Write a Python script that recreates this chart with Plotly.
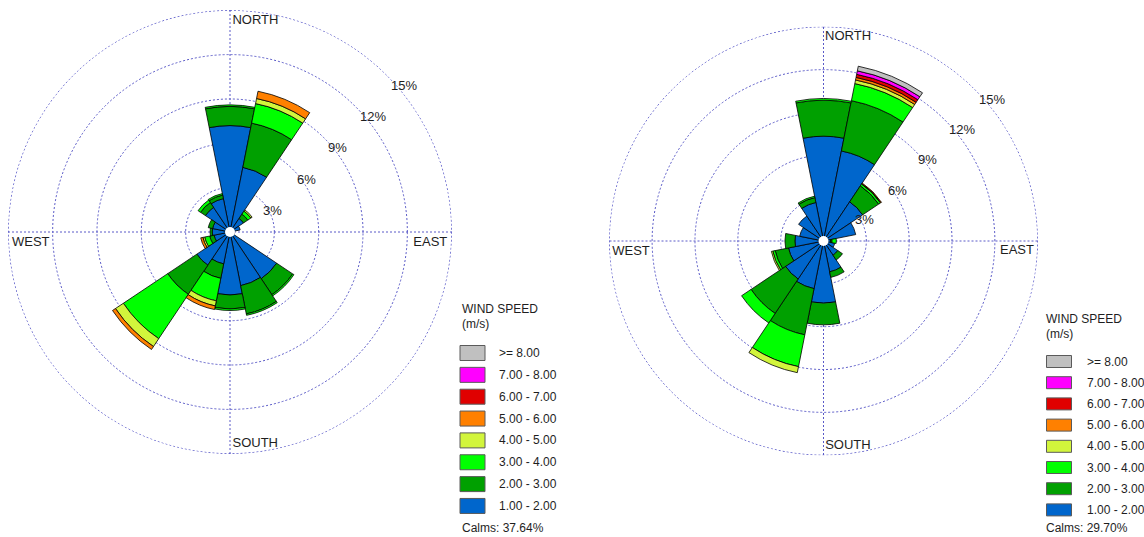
import math
import plotly.graph_objects as go

# ---------------------------------------------------------------- data
DIRECTIONS = ["N", "NNE", "NE", "ENE", "E", "ESE", "SE", "SSE",
              "S", "SSW", "SW", "WSW", "W", "WNW", "NW", "NNW"]
SPEED_BINS = ["1.00 - 2.00", "2.00 - 3.00", "3.00 - 4.00", "4.00 - 5.00",
              "5.00 - 6.00", "6.00 - 7.00", "7.00 - 8.00", ">= 8.00"]
BIN_COLORS = ["#0066cc", "#00a000", "#00ff00", "#d2f53c",
              "#ff8000", "#e00000", "#ff00ff", "#c0c0c0"]
RING_TICKS = [3, 6, 9, 12, 15]
RING_LABELS = ["3%", "6%", "9%", "12%", "15%"]
COMPASS_LABELS = ["NORTH", "EAST", "SOUTH", "WEST"]

# Station A: frequency (%) per direction for each wind-speed class
a_1_2 = [7.2, 4.46, 1.1, 0.7, 0.3, 0.3, 3.8, 3.7, 4.26, 2.2, 2.7, 1.1, 1.2, 1.2, 2.0, 2.3]
a_2_3 = [1.3, 3.05, 0.35, 0, 0, 0, 1.3, 1.95, 0.95, 1.0, 2.37, 0.3, 0.15, 0.3, 0.4, 0.25]
a_3_4 = [0.1, 1.35, 0.25, 0, 0, 0, 0.1, 0.1, 0.1, 1.55, 3.61, 0.35, 0, 0, 0.2, 0.1]
a_4_5 = [0, 0.35, 0.1, 0, 0, 0, 0, 0, 0, 0.35, 0.64, 0.12, 0, 0, 0, 0]
a_5_6 = [0, 0.5, 0, 0, 0, 0, 0, 0, 0, 0.25, 0.24, 0.15, 0, 0, 0, 0]
a_6_7 = [0] * 16
a_7_8 = [0] * 16
a_8_up = [0] * 16
calms_a = 37.64

# Station B
b_1_2 = [7.34, 6.43, 3.3, 2.3, 0.5, 0.8, 1.2, 2.2, 4.35, 3.4, 3.2, 2.5, 2.0, 1.7, 2.1, 2.75]
b_2_3 = [2.52, 3.59, 1.35, 0, 0.1, 0, 0.4, 0.4, 1.52, 3.3, 2.9, 0.95, 0.7, 0, 0, 0.35]
b_3_4 = [0.12, 1.22, 0.15, 0, 0.3, 0, 0, 0, 0, 2.27, 0.8, 0.17, 0, 0, 0, 0.1]
b_4_5 = [0, 0.26, 0.03, 0, 0, 0, 0, 0, 0, 0.43, 0, 0.1, 0, 0, 0, 0]
b_5_6 = [0, 0.18, 0.05, 0, 0, 0, 0, 0, 0, 0, 0, 0, 0, 0, 0, 0]
b_6_7 = [0, 0.22, 0, 0, 0, 0, 0, 0, 0, 0, 0, 0, 0, 0, 0, 0]
b_7_8 = [0, 0.25, 0, 0, 0, 0, 0, 0, 0, 0, 0, 0, 0, 0, 0, 0]
b_8_up = [0, 0.33, 0, 0, 0, 0, 0, 0, 0, 0, 0, 0, 0, 0, 0, 0]
calms_b = 29.70

# ---------------------------------------------------------------- styling
W, H = 1144, 537
FONT = "Liberation Sans, Arial, sans-serif"
TEXT = "#1e1e1e"
GRID = "#5a5ac8"
DOTS = "2px,2px"
R_MAX = 15.02            # plotting disc ends right at the outer ring
SECTOR = 360 / len(DIRECTIONS)
theta = [i * SECTOR for i in range(len(DIRECTIONS))]

# label placement in (radius %, compass degrees)
ring_label_r = [3.25, 6.27, 9.24, 12.43, 15.42]
ring_label_t = [63.0, 55.6, 51.9, 51.1, 49.9]
compass_r = [14.43, 13.57, 14.43, 13.5]
compass_t = [6.85, 93.0, 173.2, 266.9]

fig = go.Figure()
shapes, annotations = [], []


def ann(x, y, s, size=12, xanchor="left"):
    annotations.append(dict(x=x / W, y=1 - y / H, xref="paper", yref="paper",
                            xanchor=xanchor, yanchor="middle", text=s,
                            showarrow=False,
                            font=dict(family=FONT, size=size, color=TEXT)))


def add_rose(classes, subplot, cx, cy, rad):
    # outer 15 % ring (the axis grid stops short of the disc edge)
    ring_theta = list(range(0, 361, 2))
    fig.add_trace(go.Scatterpolar(
        r=[RING_TICKS[-1]] * len(ring_theta), theta=ring_theta, mode="lines",
        line=dict(color=GRID, width=1, dash=DOTS), subplot=subplot,
        showlegend=False, hoverinfo="skip"))
    for name, color, vals in zip(SPEED_BINS, BIN_COLORS, classes):
        fig.add_trace(go.Barpolar(
            r=[v if v > 0 else None for v in vals], theta=theta, width=SECTOR,
            name=name, subplot=subplot, showlegend=False,
            marker=dict(color=color, line=dict(color="#000000", width=0.8)),
        ))
    # compass names
    fig.add_trace(go.Scatterpolar(
        r=compass_r, theta=compass_t, text=COMPASS_LABELS, mode="text",
        textfont=dict(family=FONT, size=13, color=TEXT), subplot=subplot,
        showlegend=False, cliponaxis=False, hoverinfo="skip"))
    # white calm circle at the centre
    fig.add_trace(go.Scatterpolar(
        r=[0], theta=[0], mode="markers", subplot=subplot, showlegend=False,
        marker=dict(size=10, color="white", line=dict(width=0)), hoverinfo="skip"))
    # ring percentages (the outermost one sits outside the plotting disc)
    scale = rad / R_MAX
    for rr, tt, s in zip(ring_label_r, ring_label_t, RING_LABELS):
        a = math.radians(tt)
        ann(cx + rr * scale * math.sin(a), cy - rr * scale * math.cos(a), s,
            size=13, xanchor="center")


def polar_layout(cx, cy, rad):
    return dict(
        domain=dict(x=[(cx - rad) / W, (cx + rad) / W],
                    y=[1 - (cy + rad) / H, 1 - (cy - rad) / H]),
        bgcolor="white",
        barmode="stack",
        radialaxis=dict(range=[0, R_MAX], tickvals=RING_TICKS, showticklabels=False,
                        ticks="", showline=False, gridcolor=GRID, gridwidth=1,
                        griddash=DOTS),
        angularaxis=dict(rotation=90, direction="clockwise",
                         tickvals=[0, 90, 180, 270], showticklabels=False,
                         ticks="", showline=False, gridcolor=GRID, gridwidth=1,
                         griddash=DOTS),
    )


def add_key(x_title, y_title, x_sw, sw_w, sw_h, y_first, step, x_text, y_calms, calms):
    ann(x_title, y_title, "WIND SPEED")
    ann(x_title, y_title + 14.5, "(m/s)")
    for i, (name, color) in enumerate(zip(SPEED_BINS[::-1], BIN_COLORS[::-1])):
        yc = y_first + i * step
        shapes.append(dict(type="rect", xref="paper", yref="paper",
                           x0=x_sw / W, x1=(x_sw + sw_w) / W,
                           y0=1 - (yc + sw_h / 2) / H, y1=1 - (yc - sw_h / 2) / H,
                           fillcolor=color, line=dict(color="#5a5a5a", width=1)))
        ann(x_text, yc, name)
    ann(x_title, y_calms, f"Calms: {calms:.2f}%")


ROSE_A = (230, 232, 222)
ROSE_B = (823.5, 241, 214.5)

add_rose([a_1_2, a_2_3, a_3_4, a_4_5, a_5_6, a_6_7, a_7_8, a_8_up], "polar", *ROSE_A)
add_rose([b_1_2, b_2_3, b_3_4, b_4_5, b_5_6, b_6_7, b_7_8, b_8_up], "polar2", *ROSE_B)

add_key(460, 309, 460, 25, 15, 353, 21.85, 497, 528, calms_a)
add_key(1043.5, 319, 1046.5, 25, 12, 361.5, 21.2, 1085, 528, calms_b)

fig.update_layout(
    width=W, height=H,
    margin=dict(l=0, r=0, t=0, b=0),
    paper_bgcolor="white",
    plot_bgcolor="white",
    polar=polar_layout(*ROSE_A),
    polar2=polar_layout(*ROSE_B),
    shapes=shapes,
    annotations=annotations,
    showlegend=False,
)

fig.write_html("out.html")
